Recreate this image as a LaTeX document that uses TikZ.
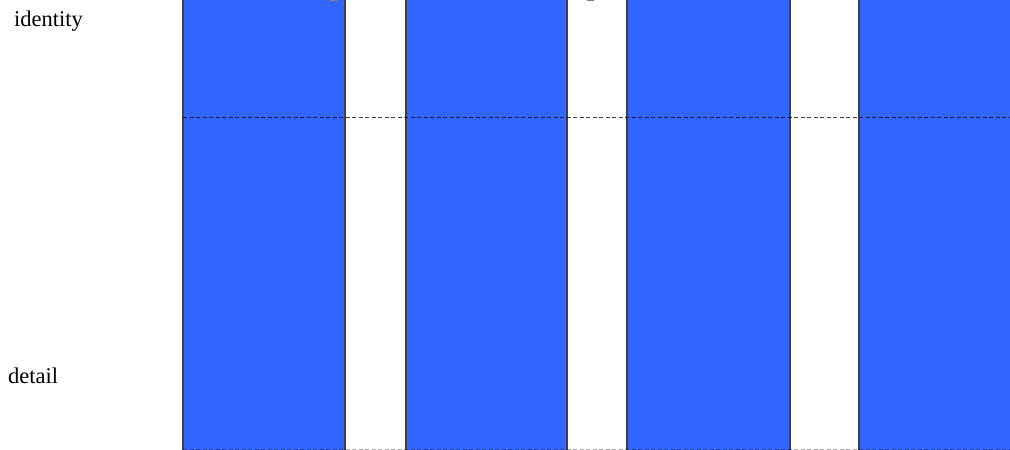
\documentclass[tikz,border=0pt]{standalone}
\usepackage{fontspec}
\setmainfont{Liberation Serif}
\definecolor{colblue}{HTML}{3366FF}
\tikzset{
  column/.style={fill=colblue, draw=black!75, line width=1.3pt},
  lbl/.style={font=\fontsize{22.5}{26}\selectfont, anchor=west, inner sep=0pt},
  midline/.style={draw=black, opacity=0.75, dash pattern=on 4pt off 2.5pt, line width=1pt},
  baseline/.style={draw=black, opacity=0.35, dash pattern=on 4pt off 2.5pt, line width=1pt},
  frag/.style={fill=black!50, draw=none}
}
\begin{document}
\begin{tikzpicture}[x=1pt,y=-1pt]
\useasboundingbox (0,0) rectangle (1010,450);
\clip (0,0) rectangle (1010,450);
\path[column] (183,-10) rectangle (345,452);
\path[column] (406,-10) rectangle (567,452);
\path[column] (627,-10) rectangle (790,452);
\path[column] (859,-10) rectangle (1020,452);
\coordinate (m1) at (183,117.5);
\coordinate (m2) at (1010,117.5);
\draw[midline] (m1) -- (m2);
\coordinate (b1) at (183,449.5);
\coordinate (b2) at (1010,449.5);
\draw[baseline] (b1) -- (b2);
\path[frag] (330,-1) rectangle (337,1.2);
\path[frag] (587,-1) rectangle (594,1.2);
\node[lbl] (identity) at (14,21) {identity};
\node[lbl] (detail) at (8,376) {detail};
\end{tikzpicture}
\end{document}
